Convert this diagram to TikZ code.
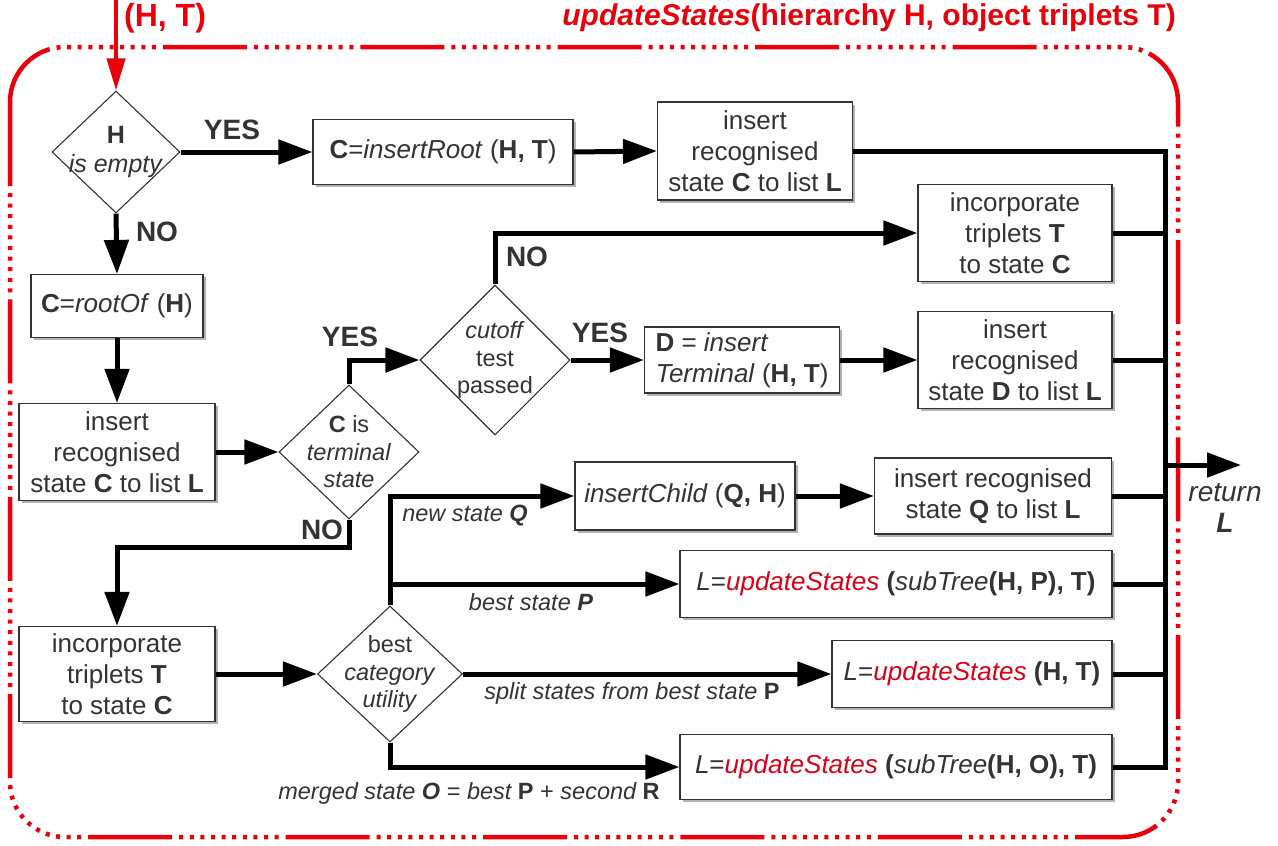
\documentclass[tikz,border=0pt]{standalone}
\usepackage{fontspec}
\setmainfont{Liberation Sans}
\usetikzlibrary{arrows.meta,shapes.geometric,shadows}
\definecolor{txt}{HTML}{333333}
\definecolor{myred}{HTML}{E8000B}
\definecolor{fred}{HTML}{D9001A}
\begin{document}
\begin{tikzpicture}[x=1pt,y=-1pt,
  box/.style={draw=txt, line width=1.2pt, fill=white, inner sep=0pt, align=center, text=txt,
    font=\fontsize{26}{31}\selectfont,
    drop shadow={shadow xshift=2.5pt,shadow yshift=-2.5pt,fill=black,opacity=0.3}},
  dia/.style={draw=txt, line width=1.1pt, diamond, inner sep=0pt, fill=white},
  dtext/.style={align=center, text=txt, font=\fontsize{23.5}{27.5}\selectfont, inner sep=0pt},
  conn/.style={line width=5pt, black},
  arr/.style={conn, -{Triangle[length=34pt,width=24pt]}},
  yn/.style={font=\bfseries\fontsize{28}{30}\selectfont, text=txt, inner sep=0pt},
  elab/.style={font=\itshape\fontsize{23.5}{26}\selectfont, text=txt, inner sep=0pt},
  ttl/.style={font=\bfseries\fontsize{30}{32}\selectfont, text=myred, inner sep=0pt},
]
\useasboundingbox (0,0) rectangle (1278,846);

% red frame
\draw[myred, line width=4.5pt, rounded corners=55pt,
  dash pattern=on 84pt off 7pt on 4pt off 6.6pt on 4pt off 6.6pt on 4pt off 6.6pt on 4pt off 6.6pt on 4pt off 6.6pt on 4pt off 6.6pt on 4pt off 6.6pt on 4pt off 6.6pt on 4pt off 6.6pt on 4pt off 7pt]
  (10,47) rectangle (1178,837);

% titles
\node[ttl, anchor=east] (title) at (1176,18) {\textit{updateStates}(hierarchy H, object triplets T)};
\node[ttl, anchor=west, font=\bfseries\fontsize{32}{34}\selectfont] (ht) at (124,18) {(H, T)};

% nodes
\node[dia, minimum width=128pt, minimum height=122pt,
  label={[dtext, font=\fontsize{25}{29}\selectfont]center:{\textbf{H}\\\textit{is empty}}}] (d1) at (116,152) {};
\node[box, minimum width=260pt, minimum height=65pt] (b2) at (443,152)
  {\textbf{C}=\textit{insertRoot} (\textbf{H, T})};
\node[box, minimum width=195pt, minimum height=98pt] (b3) at (755,151)
  {insert\\recognised\\state \textbf{C} to list \textbf{L}};
\node[box, minimum width=194pt, minimum height=97pt] (b4) at (1015,233)
  {incorporate\\triplets \textbf{T}\\to state \textbf{C}};
\node[box, minimum width=172pt, minimum height=63pt] (b5) at (117,306)
  {\textbf{C}=\textit{rootOf} (\textbf{H})};
\node[box, minimum width=196pt, minimum height=97pt] (b6) at (117,452)
  {insert\\recognised\\state \textbf{C} to list \textbf{L}};
\node[dia, minimum width=140pt, minimum height=134pt,
  label={[dtext]center:{\textbf{C} is\\\textit{terminal}\\\textit{state}}}] (d7) at (349,452) {};
\node[dia, minimum width=150pt, minimum height=150pt,
  label={[dtext]center:{\textit{cutoff}\\test\\passed}}] (d8) at (495,360) {};
\node[box, align=left, minimum width=195pt, minimum height=66pt] (b9) at (742,360)
  {\textbf{D} = \textit{insert}\\\textit{Terminal} (\textbf{H, T})};
\node[box, minimum width=194pt, minimum height=97pt] (b10) at (1015,360)
  {insert\\recognised\\state \textbf{D} to list \textbf{L}};
\node[box, minimum width=220pt, minimum height=68pt] (b11) at (685,496)
  {\textit{insertChild} (\textbf{Q, H})};
\node[box, minimum width=237pt, minimum height=76pt] (b12) at (993,496)
  {insert recognised\\state \textbf{Q} to list \textbf{L}};
\node[box, minimum width=432pt, minimum height=67pt] (b13) at (896,584)
  {\textit{L}=\textcolor{fred}{\textit{updateStates}} \textbf{(}\textit{subTree}\textbf{(H, P), T)}};
\node[dia, minimum width=145pt, minimum height=136pt,
  label={[dtext]center:{best\\\textit{category}\\\textit{utility}}}] (d14) at (390,674) {};
\node[box, minimum width=196pt, minimum height=95pt] (b15) at (117,674)
  {incorporate\\triplets \textbf{T}\\to state \textbf{C}};
\node[box, minimum width=280pt, minimum height=67pt] (b16) at (972,674)
  {\textit{L}=\textcolor{fred}{\textit{updateStates}} \textbf{(H, T)}};
\node[box, minimum width=432pt, minimum height=65pt] (b17) at (896,767)
  {\textit{L}=\textcolor{fred}{\textit{updateStates}} \textbf{(}\textit{subTree}\textbf{(H, O), T)}};

% input arrow
\coordinate (in) at (116,0);
\draw[myred, line width=4pt, -{Triangle[length=32pt,width=18pt]}] (in) -- (d1.north);

% connectors
\draw[arr] (d1.east) -- (b2.west);
\draw[arr] (b2.east) -- (b3.west);
\draw[arr] (d1.south) -- (b5.north);
\draw[arr] (b5.south) -- (b6.north);
\draw[arr] (b6.east) -- (d7.west);
\draw[arr] (d7.north) |- (d8.west);
\draw[arr] (d8.north) |- (b4.west);
\draw[arr] (d8.east) -- (b9.west);
\draw[arr] (b9.east) -- (b10.west);
\draw[arr] (d7.south) -- ++(0,28) -| (b15.north);
\draw[arr] (b15.east) -- (d14.west);
\draw[arr] (d14.north) |- (b11.west);
\draw[arr] (d14.north) |- (b13.west);
\draw[arr] (d14.east) -- (b16.west);
\draw[arr] (d14.south) |- (b17.west);
\draw[arr] (b11.east) -- (b12.west);

% collector
\coordinate (colbot) at (1165,767);
\draw[conn, line join=miter] (b3.east) -| (colbot) -- (b17.east);
\draw[conn] (b4.east) -- (b4.east -| colbot);
\draw[conn] (b10.east) -- (b10.east -| colbot);
\draw[conn] (b12.east) -- (b12.east -| colbot);
\draw[conn] (b13.east) -- (b13.east -| colbot);
\draw[conn] (b16.east) -- (b16.east -| colbot);
\coordinate (retend) at (1241,465);
\draw[arr] (retend -| colbot) -- (retend);
\node[elab, align=center, font=\itshape\fontsize{28}{31}\selectfont] (rettxt) at (1225,508) {return\\\textbf{L}};

% branch labels
\node[yn] (y1) at (232,130) {YES};
\node[yn] (n1) at (157,232) {NO};
\node[yn] (y7) at (350,337) {YES};
\node[yn] (n7) at (322,530) {NO};
\node[yn] (y8) at (600,333) {YES};
\node[yn] (n8) at (527,257) {NO};
\node[elab] (lq) at (465,516) {new state \textbf{Q}};
\node[elab] (lp) at (531,602) {best state \textbf{P}};
\node[elab] (ls) at (632,693) {split states from best state \textbf{\upshape P}};
\node[elab] (lo) at (469,793) {merged state \textbf{O} {\upshape=} best \textbf{\upshape P} {\upshape+} second \textbf{\upshape R}};
\end{tikzpicture}
\end{document}
